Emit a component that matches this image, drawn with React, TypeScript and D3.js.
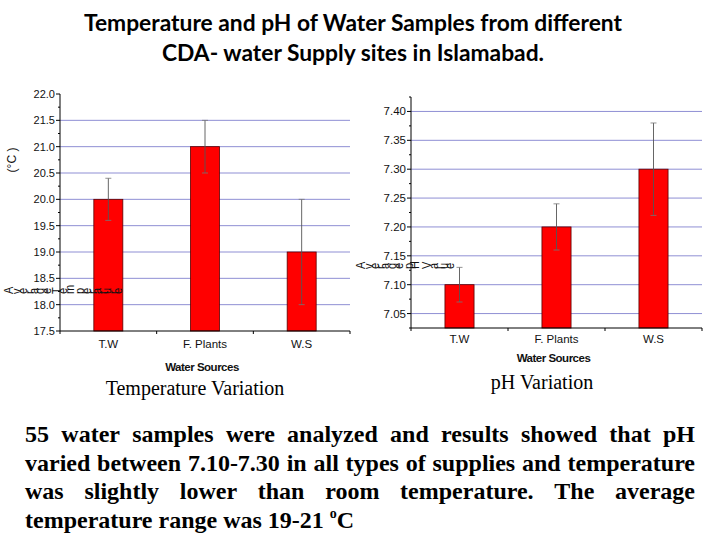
import React, { useMemo } from 'react';
import * as d3 from 'd3';

const sources = ['T.W', 'F. Plants', 'W.S'];

const tempMeans = [20.0, 21.0, 19.0];
const tempLow = [19.6, 20.5, 18.0];
const tempHigh = [20.4, 21.5, 20.0];
const tempTicks = [17.5, 18.0, 18.5, 19.0, 19.5, 20.0, 20.5, 21.0, 21.5, 22.0];
const tempGrid = [18.0, 18.5, 19.0, 19.5, 20.0, 20.5, 21.0, 21.5];
const tempMinor = [17.75, 18.25, 18.75, 19.25, 19.75, 20.25, 20.75, 21.25, 21.75];

const phMeans = [7.10, 7.20, 7.30];
const phLow = [7.07, 7.16, 7.22];
const phHigh = [7.13, 7.24, 7.38];
const phTicks = [7.05, 7.10, 7.15, 7.20, 7.25, 7.30, 7.35, 7.40];
const phGrid = [7.05, 7.10, 7.15, 7.20, 7.25, 7.30, 7.35, 7.40];
const phMinor = [7.025, 7.075, 7.125, 7.175, 7.225, 7.275, 7.325, 7.375, 7.425];

const titleLines = [
  'Temperature and pH of Water Samples from different',
  'CDA- water Supply sites in  Islamabad.',
];

const paragraphLines = [
  '55 water samples were analyzed and results showed that pH',
  'varied between 7.10-7.30 in all types of supplies and temperature',
  'was slightly lower than room temperature. The average',
];
const lastLine = 'temperature range was 19-21 ';

const ARIAL = '"Liberation Sans", Arial, sans-serif';
const SERIF = '"Liberation Serif", serif';

type ChartProps = {
  x0: number; x1: number; yTop: number; yBottom: number;
  domain: [number, number];
  means: number[]; low: number[]; high: number[];
  ticks: number[]; grid: number[]; minor: number[];
  fmt: (v: number) => string;
  tickFont: number;
  catLabelY: number; axisTitleY: number;
};

function BarChart(p: ChartProps) {
  const x = d3.scaleBand<string>().domain(sources).range([p.x0, p.x1]).padding(0);
  const y = d3.scaleLinear().domain(p.domain).range([p.yBottom, p.yTop]);
  const bw = x.bandwidth();
  const barW = bw * 0.3;
  const boundaries = d3.range(sources.length + 1).map((i) => p.x0 + i * bw);
  return (
    <g>
      {p.grid.map((g) => (
        <line key={'g' + g} x1={p.x0} x2={p.x1} y1={y(g)} y2={y(g)} stroke="#8f8fd4" strokeWidth={1} />
      ))}
      {sources.map((s, i) => {
        const cx = (x(s) as number) + bw / 2;
        return (
          <g key={s}>
            <rect x={cx - barW / 2} y={y(p.means[i])} width={barW} height={p.yBottom - y(p.means[i])}
              fill="#ff0000" stroke="#5a0000" strokeWidth={0.8} />
            <line x1={cx} x2={cx} y1={y(p.high[i])} y2={y(p.low[i])} stroke="#555" strokeWidth={0.9} />
            <line x1={cx - 3} x2={cx + 3} y1={y(p.high[i])} y2={y(p.high[i])} stroke="#777" strokeWidth={0.8} />
            <line x1={cx - 3} x2={cx + 3} y1={y(p.low[i])} y2={y(p.low[i])} stroke="#777" strokeWidth={0.8} />
            <text x={cx} y={p.catLabelY} textAnchor="middle" fontFamily={ARIAL} fontSize={11.5} fill="#111">{s}</text>
          </g>
        );
      })}
      <line x1={p.x0} x2={p.x0} y1={p.yTop} y2={p.yBottom} stroke="#000" strokeWidth={1} />
      <line x1={p.x0} x2={p.x1} y1={p.yBottom} y2={p.yBottom} stroke="#000" strokeWidth={1} />
      {boundaries.map((b) => (
        <line key={'b' + b} x1={b} x2={b} y1={p.yBottom} y2={p.yBottom + 3} stroke="#000" strokeWidth={1} />
      ))}
      {p.ticks.map((t) => (
        <g key={'t' + t}>
          <line x1={p.x0 - 4} x2={p.x0} y1={y(t)} y2={y(t)} stroke="#000" strokeWidth={1} />
          <text x={p.x0 - 5} y={y(t)} dy="0.35em" textAnchor="end" fontFamily={ARIAL} fontSize={p.tickFont} fill="#111">{p.fmt(t)}</text>
        </g>
      ))}
      {p.minor.map((t) => (
        <line key={'m' + t} x1={p.x0 - 2} x2={p.x0} y1={y(t)} y2={y(t)} stroke="#000" strokeWidth={1} />
      ))}
      <text x={(p.x0 + p.x1) / 2 - 3} y={p.axisTitleY} textAnchor="middle" fontFamily={ARIAL} fontWeight="bold"
        fontSize={11.5} letterSpacing={-0.5} fill="#111">Water Sources</text>
    </g>
  );
}

const PARA_SIZE = 24;

function Paragraph() {
  const font = `bold ${PARA_SIZE}px "Liberation Serif"`;
  const layout = useMemo(() => {
    const canvas = document.createElement('canvas');
    const ctx = canvas.getContext('2d')!;
    ctx.font = font;
    const left = 25, right = 695;
    return paragraphLines.map((line) => {
      const words = line.split(' ');
      const widths = words.map((w) => ctx.measureText(w).width);
      const total = widths.reduce((a, b) => a + b, 0);
      const gap = Math.max(2, (right - left - total) / (words.length - 1));
      let xx = left;
      return words.map((w, i) => {
        const pos = xx;
        xx += widths[i] + gap;
        return { w, x: pos };
      });
    });
  }, []);
  const baselines = [442, 471, 499, 528];
  return (
    <g fontFamily={SERIF} fontWeight="bold" fontSize={PARA_SIZE} fill="#000">
      {layout.map((ws, li) => ws.map((o, i) => (
        <text key={li + '-' + i} x={o.x} y={baselines[li]}>{o.w}</text>
      )))}
      <text x={25} y={baselines[3]}>
        {lastLine}
        <tspan fontSize={14} dy={-10}>o</tspan>
        <tspan dy={10}>C</tspan>
      </text>
    </g>
  );
}

export default function App() {
  return (
    <svg width={720} height={540} style={{ position: 'absolute', left: 0, top: 0, background: '#fff' }}>
      <rect width={720} height={540} fill="#fff" />
      {titleLines.map((t, i) => (
        <text key={t} x={353} y={[31, 61][i]} textAnchor="middle" fontFamily='Lato, "Open Sans", sans-serif'
          fontWeight="bold" fontSize={22.8} fill="#000">{t}</text>
      ))}

      <BarChart x0={60} x1={350} yTop={94} yBottom={331} domain={[17.5, 22.0]}
        means={tempMeans} low={tempLow} high={tempHigh}
        ticks={tempTicks} grid={tempGrid} minor={tempMinor} fmt={d3.format('.1f')}
        tickFont={11} catLabelY={348} axisTitleY={371} />
      <BarChart x0={411} x1={702} yTop={97} yBottom={328} domain={[7.025, 7.425]}
        means={phMeans} low={phLow} high={phHigh}
        ticks={phTicks} grid={phGrid} minor={phMinor} fmt={d3.format('.2f')}
        tickFont={11.5} catLabelY={343} axisTitleY={362} />

      <text transform="translate(16,160) rotate(-90)" textAnchor="middle" fontFamily={ARIAL} fontSize={12} fill="#111">(°C )</text>
      <text x={13} y={294} rotate="-90" fontFamily={ARIAL} fontSize={11} textLength={116} lengthAdjust="spacingAndGlyphs" fill="#111">Average Temperature</text>
      <text x={365} y={269} rotate="-90" fontFamily={ARIAL} fontSize={11} textLength={96} lengthAdjust="spacingAndGlyphs" fill="#111">Average pH Value</text>

      <text x={195} y={395} textAnchor="middle" fontFamily={SERIF} fontSize={20} fill="#000">Temperature Variation</text>
      <text x={542} y={389} textAnchor="middle" fontFamily={SERIF} fontSize={20} fill="#000">pH Variation</text>

      <Paragraph />
    </svg>
  );
}
